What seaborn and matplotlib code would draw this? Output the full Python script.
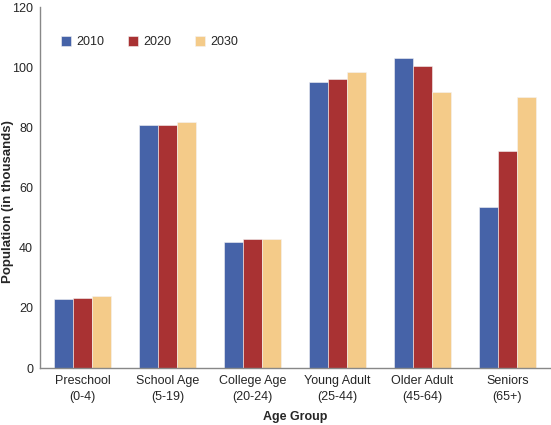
import matplotlib
matplotlib.use("Agg")
import matplotlib.pyplot as plt
import numpy as np
import pandas as pd
import seaborn as sns

# Chart data
groups = ["Preschool\n(0-4)", "School Age\n(5-19)", "College Age\n(20-24)",
          "Young Adult\n(25-44)", "Older Adult\n(45-64)", "Seniors\n(65+)"]
years = ["2010", "2020", "2030"]
pop_2010 = [22.9, 80.8, 41.9, 95.2, 103.0, 53.6]
pop_2020 = [23.4, 80.8, 42.8, 96.1, 100.5, 72.1]
pop_2030 = [23.8, 81.9, 42.8, 98.5, 91.8, 90.0]
colors = ["#4663A8", "#A93233", "#F4CB89"]

df = pd.DataFrame({
    "group": groups * 3,
    "year": [y for y in years for _ in groups],
    "pop": pop_2010 + pop_2020 + pop_2030,
})

sns.set_theme(style="white")
plt.rcParams["font.family"] = ["Liberation Sans", "DejaVu Sans"]

fig = plt.figure(figsize=(5.51, 4.25), dpi=100)
ax = fig.add_axes([0.0726, 0.134, 0.9254, 0.8495])

sns.barplot(data=df, x="group", y="pop", hue="year", palette=colors,
            saturation=1, width=0.67, gap=0, ax=ax, edgecolor="#f4f4f4",
            linewidth=0.4, errorbar=None)

ax.set_ylim(0, 120)
ax.set_xlim(-0.5, 5.5)
ax.set_yticks(np.arange(0, 121, 20))
ax.tick_params(axis="y", labelsize=9, length=3, color="#888888", pad=2)
ax.tick_params(axis="x", which="major", labelsize=9, length=0, pad=5)
for lbl in ax.get_xticklabels():
    lbl.set_linespacing(1.45)
ax.set_xticks(np.arange(-0.5, 6, 1), minor=True)
ax.tick_params(axis="x", which="minor", length=4, color="#888888")

for side in ["top", "right"]:
    ax.spines[side].set_visible(False)
for side in ["left", "bottom"]:
    ax.spines[side].set_color("#888888")
    ax.spines[side].set_linewidth(1)

ax.set_xlabel("Age Group", fontsize=9, fontweight="bold", labelpad=6)
ax.set_ylabel("Population (in thousands)", fontsize=9.5, fontweight="bold")
ax.yaxis.set_label_coords(-0.051, 0.462)

ax.legend(loc="upper left", bbox_to_anchor=(0.02, 0.95), ncol=3, frameon=False,
          fontsize=9, handlelength=0.8, handleheight=0.8, columnspacing=1.9,
          handletextpad=0.4)

fig.savefig("out.png", dpi=100)
